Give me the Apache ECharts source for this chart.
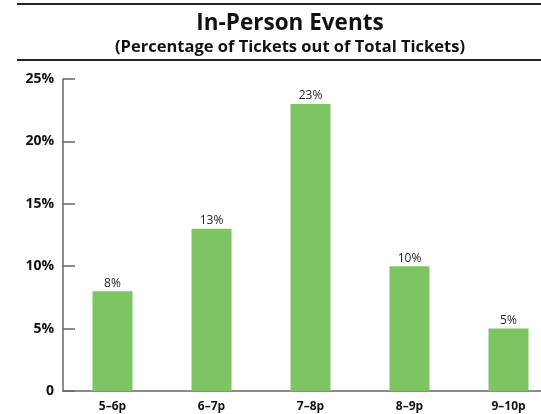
<!DOCTYPE html>
<html>
<head>
<meta charset="utf-8">
<script src="https://cdn.jsdelivr.net/npm/echarts@6/dist/echarts.min.js"></script>
<style>
html,body{margin:0;padding:0;background:#fff;overflow:hidden;width:541px;height:414px;}
#chart{width:558px;height:414px;}
</style>
</head>
<body>
<div id="chart"></div>
<script>
var categories = ['5–6p', '6–7p', '7–8p', '8–9p', '9–10p'];
var values = [8, 13, 23, 10, 5];
var yTicks = [0, 5, 10, 15, 20, 25];

var chart = echarts.init(document.getElementById('chart'));
var font = '"Open Sans", Roboto, sans-serif';
chart.setOption({
  animation: false,
  backgroundColor: '#fff',
  title: {
    text: 'In-Person Events',
    subtext: '(Percentage of Tickets out of Total Tickets)',
    left: 285,
    textAlign: 'center',
    top: 7,
    itemGap: 4,
    textStyle: {fontFamily: font, fontWeight: 'bold', fontSize: 22.5, color: '#111'},
    subtextStyle: {fontFamily: font, fontWeight: 'bold', fontSize: 16.5, color: '#111'}
  },
  graphic: [
    {type: 'rect', shape: {x: 17, y: 3, width: 541, height: 2}, style: {fill: '#222'}},
    {type: 'rect', shape: {x: 17, y: 59, width: 541, height: 2}, style: {fill: '#222'}}
  ],
  grid: {left: 63, right: 0, top: 79, bottom: 23, containLabel: false},
  xAxis: {
    type: 'category',
    data: categories,
    axisTick: {show: false},
    axisLine: {lineStyle: {color: '#666', width: 1.5}},
    axisLabel: {fontFamily: font, fontWeight: 'bold', fontSize: 12, color: '#111', margin: 10}
  },
  yAxis: {
    type: 'value',
    min: yTicks[0],
    max: yTicks[yTicks.length - 1],
    interval: 5,
    splitLine: {show: false},
    axisLine: {show: true, lineStyle: {color: '#666', width: 1.5}},
    axisTick: {show: true, inside: true, length: 12, lineStyle: {color: '#666', width: 1.5}},
    axisLabel: {
      fontFamily: font, fontWeight: 'bold', fontSize: 14, color: '#111', margin: 9,
      formatter: function (v) { return v === 0 ? '0' : v + '%'; }
    }
  },
  series: [{
    type: 'bar',
    data: values,
    barWidth: 40,
    itemStyle: {color: '#7DC462'},
    label: {
      show: true, position: 'top', distance: 2,
      fontFamily: font, fontSize: 12, color: '#222',
      formatter: function (p) { return p.value + '%'; }
    }
  }]
});
</script>
</body>
</html>
